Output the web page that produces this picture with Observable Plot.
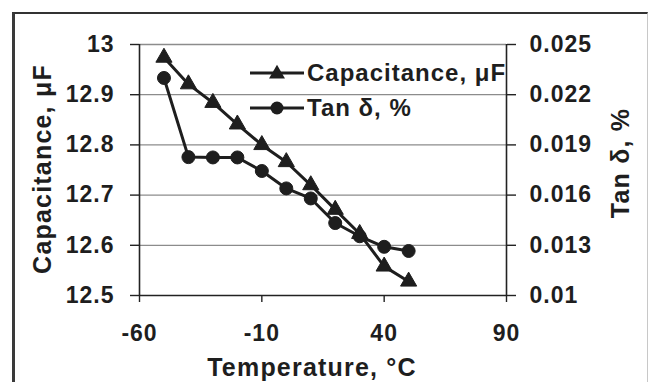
<!DOCTYPE html>
<html>
<head>
<meta charset="utf-8">
<script src="https://cdn.jsdelivr.net/npm/d3@7"></script>
<script src="https://cdn.jsdelivr.net/npm/@observablehq/plot@0.6"></script>
<style>
  html, body { margin: 0; padding: 0; background: #fff; }
  #wrap { position: relative; width: 648px; height: 382px; overflow: hidden; font-family: "Liberation Sans", Arial, sans-serif; font-weight: bold; color: #1e1e1e; }
  #frame { position: absolute; left: 12px; top: 12px; width: 632px; height: 400px; border-left: 3px solid #3a3a3a; border-top: 2px solid #333; border-right: 1px solid #c8c8c8; pointer-events: none; }
  #legend { position: absolute; left: 249px; top: 55px; }
  #legend .row { display: flex; align-items: center; height: 35px; font-size: 24px; letter-spacing: 1px; }
  #legend svg { margin-right: 2px; }
</style>
</head>
<body>
<div id="wrap">
  <div id="chart"></div>
  <div id="legend"></div>
  <div id="frame"></div>
</div>
<script>
// Data
const temperature = [-50, -40, -30, -20, -10, 0, 10, 20, 30, 40, 50];
const capacitance = [12.974, 12.921, 12.884, 12.841, 12.800, 12.766, 12.720, 12.671, 12.623, 12.558, 12.528];
const tanDelta = [0.0230, 0.01827, 0.01825, 0.01825, 0.01744, 0.0164, 0.0158, 0.01433, 0.01354, 0.01291, 0.01266];
const xTicks = [-60, -10, 40, 90];
const capTicks = [12.5, 12.6, 12.7, 12.8, 12.9, 13];
const tanTicks = [0.01, 0.013, 0.016, 0.019, 0.022, 0.025];
const seriesNames = ["Capacitance, μF", "Tan δ, %"];
const xTitle = "Temperature, °C";
const yTitleLeft = "Capacitance, μF";
const yTitleRight = "Tan δ, %";

// map the right axis (tan δ) onto the left axis (capacitance) domain
const capDomain = [12.5, 13];
const tanDomain = [0.01, 0.025];
const tanToCap = d3.scaleLinear().domain(tanDomain).range(capDomain);

const capData = temperature.map((t, i) => ({t, v: capacitance[i]}));
const tanData = temperature.map((t, i) => ({t, v: tanToCap(tanDelta[i])}));

const ink = "#1e1e1e";
const fmtCap = d => d === 13 ? "13" : d.toFixed(1);
const fmtTan = d => String(+tanToCap.invert(d).toFixed(3));
const fmtX = d => String(d);

const chart = Plot.plot({
  width: 648,
  height: 382,
  marginLeft: 139,
  marginRight: 142,
  marginTop: 44,
  marginBottom: 87,
  style: {fontFamily: "'Liberation Sans', Arial, sans-serif", fontWeight: "bold", fontSize: "23px", color: ink, background: "transparent", overflow: "visible"},
  x: {domain: [-60, 90]},
  y: {domain: capDomain},
  marks: [
    Plot.ruleY(capTicks.filter(d => d > 12.5), {stroke: "#8c8c8c", strokeWidth: 1.3}),
    Plot.ruleX([-60, 90], {stroke: "#222", strokeWidth: 1.6}),
    Plot.ruleY([12.5], {stroke: "#222", strokeWidth: 1.6}),
    Plot.axisY({ticks: capTicks, tickFormat: fmtCap, tickSize: 9, tickPadding: 16, label: null, fontSize: 23, fontWeight: "bold", stroke: "#222", strokeWidth: 1.4}),
    Plot.axisY({anchor: "right", ticks: tanTicks.map(t => tanToCap(t)), tickFormat: fmtTan, tickSize: 9, tickPadding: 14, label: null, fontSize: 23, fontWeight: "bold", stroke: "#222", strokeWidth: 1.4}),
    Plot.axisX({ticks: xTicks, tickFormat: fmtX, tickSize: 7, tickPadding: 22, label: null, fontSize: 23, fontWeight: "bold", stroke: "#222", strokeWidth: 1.4}),
    Plot.line(capData, {x: "t", y: "v", stroke: ink, strokeWidth: 3}),
    Plot.line(tanData, {x: "t", y: "v", stroke: ink, strokeWidth: 3}),
    Plot.dot(capData, {x: "t", y: "v", symbol: "triangle", r: 6, fill: ink, stroke: ink, strokeWidth: 1}),
    Plot.dot(tanData, {x: "t", y: "v", symbol: "circle", r: 6.5, fill: ink, stroke: ink, strokeWidth: 1}),
    Plot.text([xTitle], {frameAnchor: "bottom", lineAnchor: "middle", textAnchor: "middle", dx: -11, dy: 72, fontSize: 25, fontWeight: "bold", fill: ink}),
    Plot.text([yTitleLeft], {frameAnchor: "left", lineAnchor: "middle", textAnchor: "middle", dx: -97, dy: -1, rotate: -90, fontSize: 25, fontWeight: "bold", fill: ink}),
    Plot.text([yTitleRight], {frameAnchor: "right", lineAnchor: "middle", textAnchor: "middle", dx: 114, dy: -7, rotate: -90, fontSize: 25, fontWeight: "bold", fill: ink})
  ]
});
document.getElementById("chart").appendChild(chart);

// letter spacing to match the wide scanned lettering
d3.select(chart).selectAll("g[aria-label$='tick label'] text").attr("letter-spacing", "1px");
d3.select(chart).selectAll("g[aria-label='text'] text").attr("letter-spacing", "1.2px");

// Legend
const legend = d3.select("#legend");
seriesNames.forEach((name, i) => {
  const row = legend.append("div").attr("class", "row");
  const s = row.append("svg").attr("width", 56).attr("height", 20);
  s.append("line").attr("x1", 1).attr("x2", 55).attr("y1", 10).attr("y2", 10).attr("stroke", ink).attr("stroke-width", 3);
  if (i === 0) {
    s.append("path").attr("d", d3.symbol(d3.symbolTriangle, 110)()).attr("transform", "translate(28,11)").attr("fill", ink);
  } else {
    s.append("circle").attr("cx", 28).attr("cy", 10).attr("r", 6.5).attr("fill", ink);
  }
  row.append("span").text(name);
});
</script>
</body>
</html>
